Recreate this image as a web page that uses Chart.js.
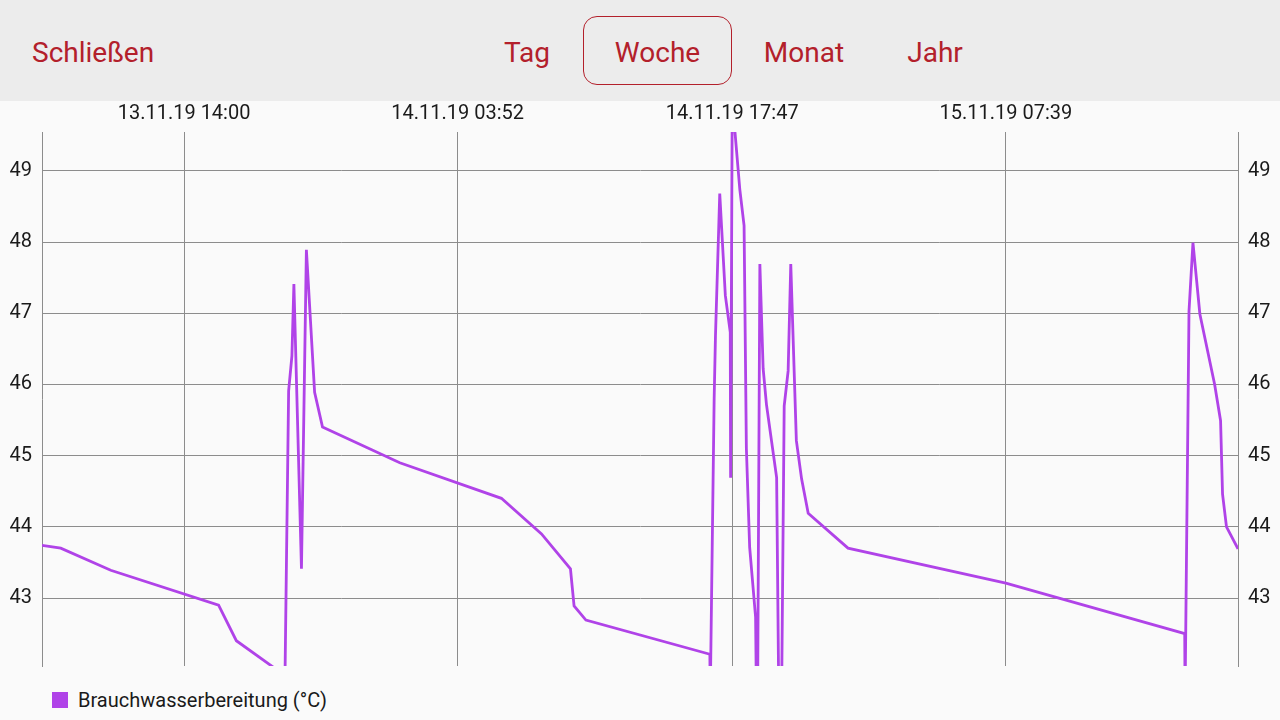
<!DOCTYPE html>
<html>
<head>
<meta charset="utf-8">
<script src="https://cdn.jsdelivr.net/npm/chart.js@4/dist/chart.umd.min.js"></script>
<style>
  html, body { margin: 0; padding: 0; width: 1280px; height: 720px; background: #fafafa; overflow: hidden;
    font-family: Roboto, "Noto Sans", sans-serif; }
  #bar { position: absolute; left: 0; top: 0; width: 1280px; height: 101px; background: #ececec; }
  .nav { position: absolute; top: 18px; height: 69px; line-height: 69px; font-size: 28px; color: #b3202b; white-space: nowrap; }
  .tab { transform: translateX(-50%); }
  #active { top: 16px; left: 583px; width: 149px; box-sizing: border-box; border: 1px solid #b3202b; border-radius: 14px;
    text-align: center; line-height: 67px; padding-top: 2px; }
  #chartBox { position: absolute; left: 0; top: 101px; width: 1280px; height: 587px; }
  #legend { position: absolute; left: 52px; top: 688px; height: 24px; display: flex; align-items: center; font-size: 20px; color: #1a1a1a; }
  #legend .sw { width: 16px; height: 16px; margin-right: 10px; }
</style>
</head>
<body>
<div id="bar">
  <div class="nav" style="left:32px">Schließen</div>
  <div class="nav tab" style="left:527px">Tag</div>
  <div class="nav" id="active">Woche</div>
  <div class="nav tab" style="left:804px">Monat</div>
  <div class="nav tab" style="left:935px">Jahr</div>
</div>
<div id="chartBox"><canvas id="c" width="1280" height="587"></canvas></div>
<div id="legend"><span class="sw" id="sw"></span><span id="lt"></span></div>
<script>
// Minutes relative to 13.11.19 14:00
const timeMinutes = [-432, -375, -223, 105, 159, 307, 318, 328, 334, 357, 372, 397, 421, 656, 965, 1087, 1175, 1186, 1222,
  1599, 1600, 1612, 1616, 1629, 1646, 1661, 1662, 1667, 1690, 1703, 1710, 1720, 1738, 1743, 1751, 1761, 1771, 1802, 1813,
  1825, 1837, 1845, 1862, 1878, 1898, 2019, 2499, 3043, 3044, 3056, 3068, 3089, 3134, 3152, 3158, 3170, 3205];
// Hot water temperature (°C)
const temperatures = [43.74, 43.70, 43.39, 42.90, 42.40, 41.91, 45.91, 46.40, 47.41, 43.41, 47.89, 45.89, 45.40, 44.90, 44.40, 43.90, 43.41, 42.89, 42.69,
  42.21, 41.56, 45.8, 46.68, 48.68, 47.25, 46.73, 44.69, 50.0, 48.74, 48.23, 45.1, 43.71, 42.73, 40.5, 47.69, 46.22, 45.72, 44.69, 39.5,
  45.70, 46.19, 47.69, 45.21, 44.67, 44.19, 43.70, 43.21, 42.50, 41.6, 47.03, 47.99, 46.99, 46.0, 45.49, 44.46, 44.0, 43.69];

const seriesName = 'Brauchwasserbereitung (°C)';
const tickMinutes = [0, 832, 1667, 2499];
const tickLabels = ['13.11.19 14:00', '14.11.19 03:52', '14.11.19 17:47', '15.11.19 07:39'];
const yTicks = [43, 44, 45, 46, 47, 48, 49];

const lineColor = '#b043e8';
const gridColor = '#8c8c8c';
const textColor = '#1a1a1a';
const fontSpec = { family: 'Roboto, "Noto Sans", sans-serif', size: 20 };

document.getElementById('sw').style.background = lineColor;
document.getElementById('lt').textContent = seriesName;

const points = timeMinutes.map((t, i) => ({ x: t, y: temperatures[i] }));

const yAxis = (pos, showGrid) => ({
  position: pos,
  display: true,
  min: 42.045,
  max: 49.545,
  afterBuildTicks: s => { s.ticks = yTicks.map(v => ({ value: v })); },
  afterFit: s => { s.width = 42; },
  grid: { display: showGrid, color: gridColor, lineWidth: 1, drawTicks: false },
  border: { display: true, color: gridColor, width: 1 },
  ticks: { color: textColor, font: fontSpec, padding: 10 }
});

new Chart(document.getElementById('c'), {
  type: 'line',
  data: {
    datasets: [{
      label: seriesName,
      data: points,
      yAxisID: 'y',
      borderColor: lineColor,
      backgroundColor: lineColor,
      borderWidth: 2.8,
      pointRadius: 0,
      tension: 0,
      fill: false
    }]
  },
  options: {
    responsive: false,
    animation: false,
    devicePixelRatio: 1,
    layout: { padding: 0 },
    plugins: { legend: { display: false }, tooltip: { enabled: false } },
    scales: {
      x: {
        type: 'linear',
        position: 'top',
        min: -432,
        max: 3205,
        afterBuildTicks: s => { s.ticks = tickMinutes.map(v => ({ value: v })); },
        afterFit: s => { s.height = 31; },
        grid: { color: gridColor, lineWidth: 1, drawTicks: false },
        border: { display: false },
        ticks: {
          color: textColor, font: fontSpec, padding: 6, maxRotation: 0, autoSkip: false,
          callback: v => tickLabels[tickMinutes.indexOf(v)]
        }
      },
      y: yAxis('left', true),
      y2: yAxis('right', false)
    }
  }
});
</script>
</body>
</html>
